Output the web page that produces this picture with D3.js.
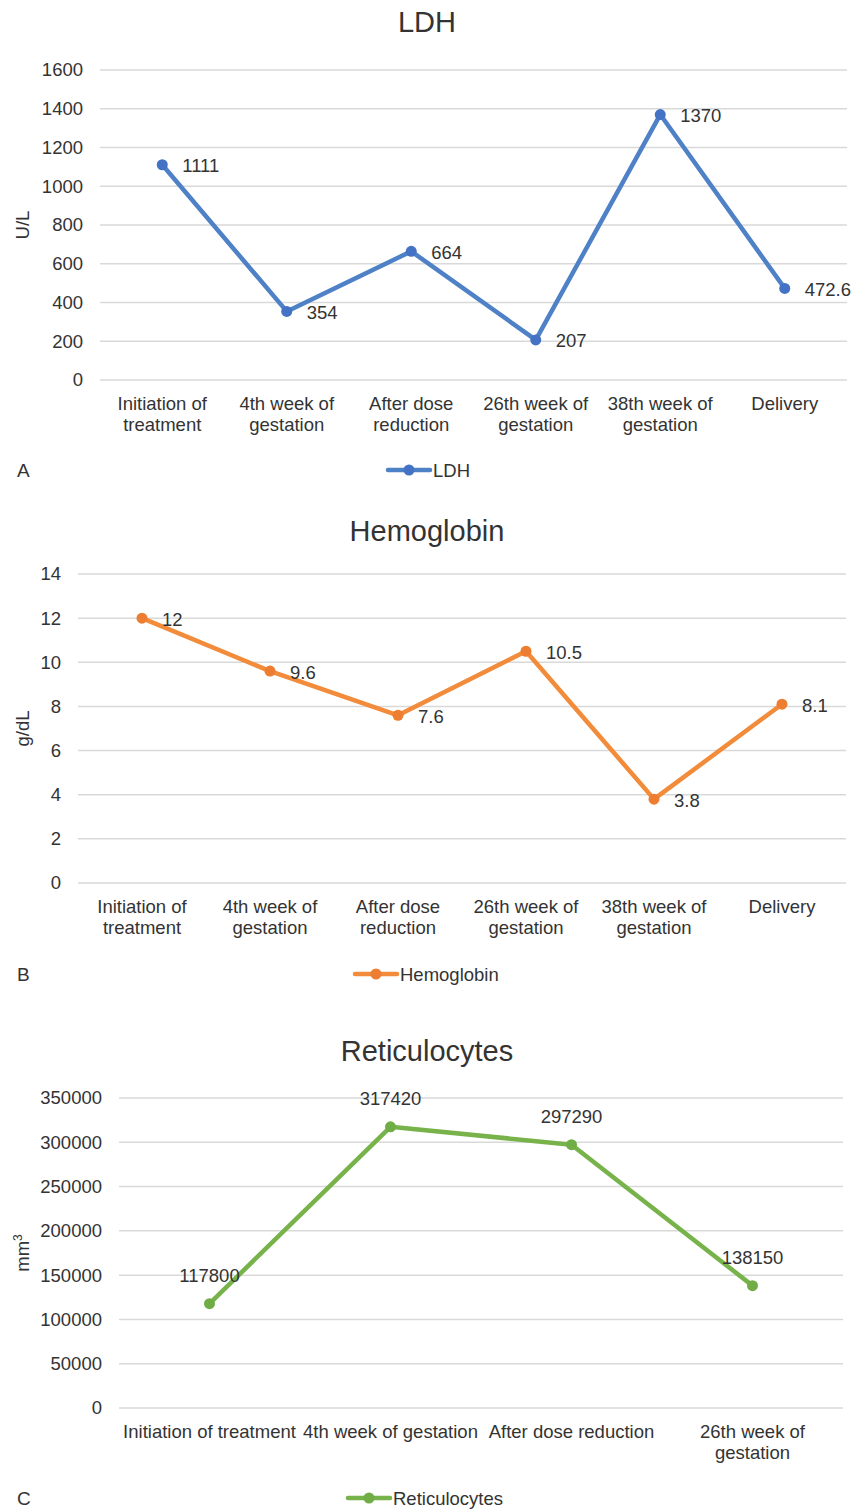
<!DOCTYPE html>
<html><head><meta charset="utf-8">
<script src="https://cdn.jsdelivr.net/npm/d3@7"></script>
<style>body{margin:0;background:#fff;} text{font-family:"Liberation Sans",Arial,sans-serif;fill:#333;}</style>
</head><body>
<svg id="c" width="857" height="1511"></svg>
<script>
const ldhCategories = [["Initiation of","treatment"],["4th week of","gestation"],["After dose","reduction"],["26th week of","gestation"],["38th week of","gestation"],["Delivery"]];
const ldhValues = [1111, 354, 664, 207, 1370, 472.6];
const ldhTicks = [0,200,400,600,800,1000,1200,1400,1600];

const hbCategories = [["Initiation of","treatment"],["4th week of","gestation"],["After dose","reduction"],["26th week of","gestation"],["38th week of","gestation"],["Delivery"]];
const hbValues = [12, 9.6, 7.6, 10.5, 3.8, 8.1];
const hbTicks = [0,2,4,6,8,10,12,14];

const retCategories = [["Initiation of treatment"],["4th week of gestation"],["After dose reduction"],["26th week of","gestation"]];
const retValues = [117800, 317420, 297290, 138150];
const retTicks = [0,50000,100000,150000,200000,250000,300000,350000];

const svg = d3.select("#c");
const FS = 18.5;

function chart(o){
  const g = svg.append("g");
  const x = d3.scaleBand().domain(o.cats.map((d,i)=>i)).range([o.left,o.right]);
  const y = d3.scaleLinear().domain([0,o.max]).range([o.bottom,o.top]);
  g.append("text").attr("x",427).attr("y",o.titleY).attr("text-anchor","middle").attr("font-size",29).text(o.title);
  g.selectAll(".gl").data(o.ticks).enter().append("line")
    .attr("x1",o.left).attr("x2",o.right).attr("y1",d=>y(d)).attr("y2",d=>y(d))
    .attr("stroke","#d9d9d9").attr("stroke-width",1.5);
  g.selectAll(".yt").data(o.ticks).enter().append("text")
    .attr("x",o.left-17).attr("y",d=>y(d)).attr("dy","0.35em").attr("text-anchor","end")
    .attr("font-size",FS).text(d=>d);
  o.cats.forEach((c,i)=>{
    const t = g.append("text").attr("x",x(i)+x.bandwidth()/2).attr("y",o.bottom+30).attr("text-anchor","middle").attr("font-size",FS);
    c.forEach((l,j)=>t.append("tspan").attr("x",x(i)+x.bandwidth()/2).attr("dy",j?21:0).text(l));
  });
  g.append("text").attr("transform",`translate(29,${(o.top+o.bottom)/2}) rotate(-90)`).attr("text-anchor","middle").attr("font-size",FS).html(o.ytitle);
  const cx = i=>x(i)+x.bandwidth()/2;
  const line = d3.line().x((d,i)=>cx(i)).y(d=>y(d));
  g.append("path").datum(o.vals).attr("d",line).attr("fill","none").attr("stroke",o.color).attr("stroke-width",4.5).attr("stroke-linejoin","round");
  g.selectAll(".pt").data(o.vals).enter().append("circle").attr("cx",(d,i)=>cx(i)).attr("cy",d=>y(d)).attr("r",5.5).attr("fill",o.mcolor);
  g.selectAll(".lb").data(o.vals).enter().append("text")
    .attr("x",(d,i)=>o.above?cx(i):cx(i)+20).attr("y",d=>o.above?y(d)-28:y(d)+1)
    .attr("dy","0.35em").attr("text-anchor",o.above?"middle":"start").attr("font-size",FS).text(d=>d);
  g.append("text").attr("x",o.letterX).attr("y",o.legendY).attr("dy","0.35em").attr("font-size",19).text(o.letter);
  g.append("line").attr("x1",o.legX).attr("x2",o.legX+42).attr("y1",o.legendY).attr("y2",o.legendY).attr("stroke",o.color).attr("stroke-width",4.5).attr("stroke-linecap","round");
  g.append("circle").attr("cx",o.legX+21).attr("cy",o.legendY).attr("r",5.5).attr("fill",o.mcolor);
  g.append("text").attr("x",o.legX+45).attr("y",o.legendY+1).attr("dy","0.35em").attr("font-size",FS).text(o.title);
}

chart({title:"LDH",titleY:32,cats:ldhCategories,vals:ldhValues,ticks:ldhTicks,max:1600,left:100,right:847,top:70,bottom:380,
  ytitle:"U/L",color:"#4f81c7",mcolor:"#4472c4",letter:"A",letterX:17,legendY:470,legX:388});
chart({title:"Hemoglobin",titleY:541,cats:hbCategories,vals:hbValues,ticks:hbTicks,max:14,left:78,right:846,top:574,bottom:883,
  ytitle:"g/dL",color:"#f28b3a",mcolor:"#ed7d31",letter:"B",letterX:17,legendY:974,legX:355});
chart({title:"Reticulocytes",titleY:1061,cats:retCategories,vals:retValues,ticks:retTicks,max:350000,left:119,right:843,top:1098,bottom:1408,
  ytitle:"mm<tspan baseline-shift='super' font-size='12'>3</tspan>",color:"#77b34a",mcolor:"#70ad47",letter:"C",letterX:17,legendY:1498,legX:348,above:true});
</script>
</body></html>
